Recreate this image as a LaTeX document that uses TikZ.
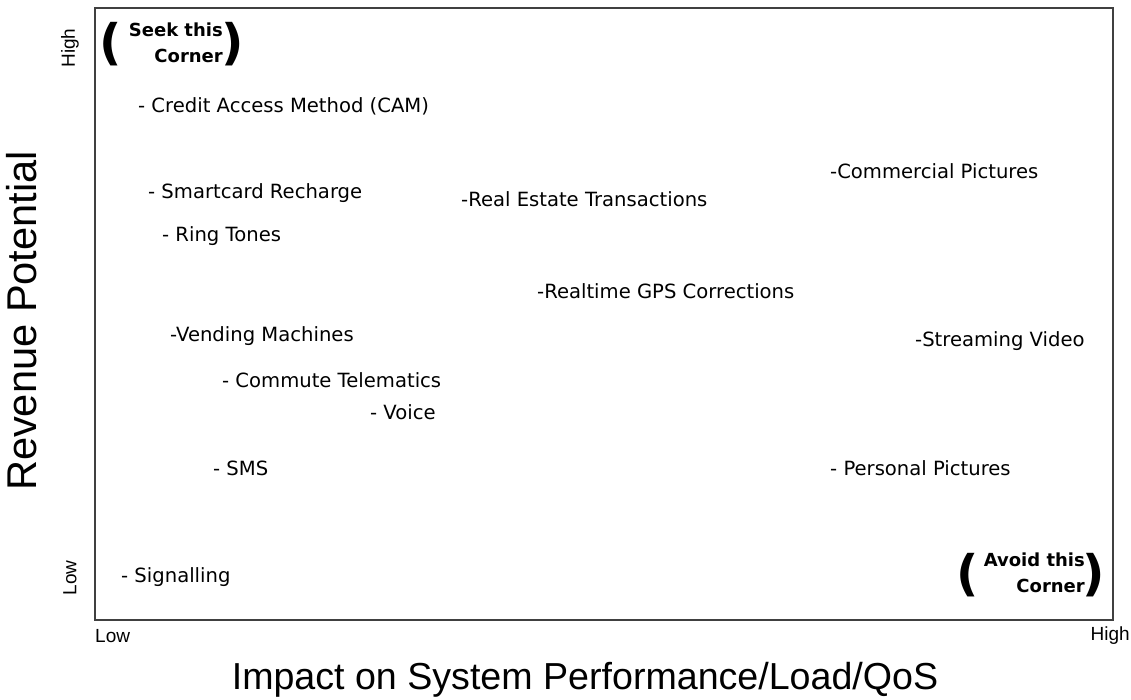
\documentclass[tikz,border=0pt]{standalone}
\usepackage{fontspec}
\setmainfont{DejaVu Sans}
\newfontfamily\axisfont{Liberation Sans}
\usepackage{tikz}
\usetikzlibrary{positioning}
\tikzset{
  itemlabel/.style={font=\fontsize{19.6}{22}\selectfont, anchor=west, inner sep=0pt},
  ticklabel/.style={font=\axisfont\fontsize{19}{22}\selectfont, inner sep=0pt},
  axistitle/.style={font=\axisfont\fontsize{37.6}{42}\selectfont, inner sep=0pt},
  cornertext/.style={font=\bfseries\fontsize{18}{26}\selectfont, align=right, anchor=east, inner sep=0pt},
  cornerparen/.style={font=\bfseries\fontsize{49}{52}\selectfont, inner sep=0pt},
  framebox/.style={draw=black!75, line width=1.2pt}
}
\begin{document}
\begin{tikzpicture}[x=1pt,y=-1pt]
\useasboundingbox (0,0) rectangle (1131,700);
% chart frame
\draw[framebox] (95,8) rectangle (1113,620);
% axis ticks and titles
\node[ticklabel, rotate=90] (yhigh) at (70,48) {High};
\node[ticklabel, rotate=90] (ylow) at (70,578) {Low};
\node[ticklabel, anchor=west] (xlow) at (95,636) {Low};
\node[ticklabel, anchor=east] (xhigh) at (1130,636) {High};
\node[axistitle, font=\axisfont\fontsize{41.6}{46}\selectfont, rotate=90] (ytitle) at (22,321) {Revenue Potential};
\node[axistitle] (xtitle) at (585,680) {Impact on System Performance/Load/QoS};
% corner notes
\node[cornerparen] (seekl) at (111,44) {(};
\node[cornertext] (seek) at (223,43) {Seek this\\Corner};
\node[cornerparen] (seekr) at (233,44) {)};
\node[cornerparen] (avoidl) at (968,575) {(};
\node[cornertext] (avoid) at (1085,573) {Avoid this\\Corner};
\node[cornerparen] (avoidr) at (1094,575) {)};
% services
\node[itemlabel] (cam) at (138,106) {- Credit Access Method (CAM)};
\node[itemlabel] (smartcard) at (148,193) {- Smartcard Recharge};
\node[itemlabel] (ringtones) at (162,236) {- Ring Tones};
\node[itemlabel] (realestate) at (461,199) {-Real Estate Transactions};
\node[itemlabel] (commercial) at (830,171) {-Commercial Pictures};
\node[itemlabel] (gps) at (537,291) {-Realtime GPS Corrections};
\node[itemlabel] (vending) at (170,336) {-Vending Machines};
\node[itemlabel] (streaming) at (915,341) {-Streaming Video};
\node[itemlabel] (commute) at (222,380) {- Commute Telematics};
\node[itemlabel] (voice) at (370,412) {- Voice};
\node[itemlabel] (sms) at (213,468) {- SMS};
\node[itemlabel] (personal) at (830,468) {- Personal Pictures};
\node[itemlabel] (signalling) at (121,577) {- Signalling};
\end{tikzpicture}
\end{document}
